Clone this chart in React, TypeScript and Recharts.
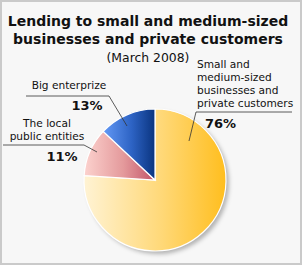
import { PieChart, Pie, Cell } from 'recharts';

// lending split, March 2008 (percent)
const categories = [
  'Small and medium-sized businesses and private customers',
  'The local public entities',
  'Big enterprize',
];
const shares = [76, 11, 13];
const labelLines = [
  ['Small and', 'medium-sized', 'businesses and', 'private customers'],
  ['The local', 'public entities'],
  ['Big enterprize'],
];
const titleLines = ['Lending to small and medium-sized', 'businesses and private customers'];
const subtitle = '(March 2008)';

const data = categories.map((name, i) => ({ name, value: shares[i] }));

const gradients = [
  { id: 'gYellow', from: '#fff3d4', mid: '#ffd877', to: '#ffbe1e' },
  { id: 'gPink', from: '#fcd2ce', mid: '#e49a9c', to: '#c25469' },
  { id: 'gBlue', from: '#6399f6', mid: '#2d63c4', to: '#0a347f' },
];

// where each callout sits (chart pixels)
const callouts = [
  { anchor: 'start', tx: 197, ty: 68, pctX: 205, pctY: 128, pctAnchor: 'start', line: [[292, 112], [196, 112], [189, 141]] },
  { anchor: 'middle', tx: 47, ty: 127, pctX: 62, pctY: 161, pctAnchor: 'middle', line: [[3, 145], [84, 145], [97, 152]] },
  { anchor: 'middle', tx: 69, ty: 89, pctX: 87, pctY: 110, pctAnchor: 'middle', line: [[26, 96], [109, 96], [127, 126]] },
];

const FONT = '"DejaVu Sans", Verdana, sans-serif';

function renderLabel(props: any) {
  const { index, percent } = props;
  const c = callouts[index];
  const pts = c.line.map((p) => p.join(',')).join(' ');
  return (
    <g key={`lbl-${index}`}>
      <polyline points={pts} fill="none" stroke="#333" strokeWidth={0.8} />
      <text x={c.tx} y={c.ty} textAnchor={c.anchor as any} fontFamily={FONT} fontSize={10.6} fill="#111">
        {labelLines[index].map((t, k) => (
          <tspan key={k} x={c.tx} dy={k === 0 ? 0 : 13}>
            {t}
          </tspan>
        ))}
      </text>
      <text x={c.pctX} y={c.pctY} textAnchor={c.pctAnchor as any} fontFamily={FONT} fontSize={13} fontWeight="bold" fill="#111">
        {Math.round(percent * 100)}%
      </text>
    </g>
  );
}

export default function App() {
  return (
    <div
      style={{
        position: 'absolute',
        left: 0,
        top: 0,
        width: 302,
        height: 265,
        background: '#f7f7f7',
        boxShadow: 'inset 0 0 0 2px #cacaca',
        fontFamily: FONT,
      }}
    >
      <div style={{ position: 'absolute', left: 0, top: 12, width: 296, textAlign: 'center', color: '#111' }}>
        {titleLines.map((t) => (
          <div key={t} style={{ fontSize: 14, fontWeight: 'bold', lineHeight: '18px' }}>
            {t}
          </div>
        ))}
        <div style={{ fontSize: 12.4, lineHeight: '18px', marginTop: 1 }}>{subtitle}</div>
      </div>
      <div style={{ position: 'absolute', left: 0, top: 0 }}>
        <PieChart width={302} height={265} margin={{ top: 0, right: 0, bottom: 0, left: 0 }}>
          <defs>
            {gradients.map((g) => (
              <linearGradient key={g.id} id={g.id} x1="0" y1="0" x2="1" y2="0">
                <stop offset="0%" stopColor={g.from} />
                <stop offset="55%" stopColor={g.mid} />
                <stop offset="100%" stopColor={g.to} />
              </linearGradient>
            ))}
            <filter id="blurShadow" x="-20%" y="-20%" width="140%" height="140%">
              <feGaussianBlur stdDeviation="2" />
            </filter>
          </defs>
          {/* soft drop shadow behind the pie */}
          <Pie
            data={data}
            dataKey="value"
            cx={158}
            cy={183}
            outerRadius={71}
            startAngle={90}
            endAngle={-270}
            stroke="none"
            isAnimationActive={false}
            labelLine={false}
          >
            {data.map((d) => (
              <Cell key={d.name} fill="#000" fillOpacity={0.28} filter="url(#blurShadow)" />
            ))}
          </Pie>
          <Pie
            data={data}
            dataKey="value"
            cx={155}
            cy={180}
            outerRadius={71}
            startAngle={90}
            endAngle={-270}
            stroke="#ffffff"
            strokeWidth={1.2}
            isAnimationActive={false}
            labelLine={false}
            label={renderLabel}
          >
            {data.map((d, i) => (
              <Cell key={d.name} fill={`url(#${gradients[i].id})`} />
            ))}
          </Pie>
        </PieChart>
      </div>
    </div>
  );
}
